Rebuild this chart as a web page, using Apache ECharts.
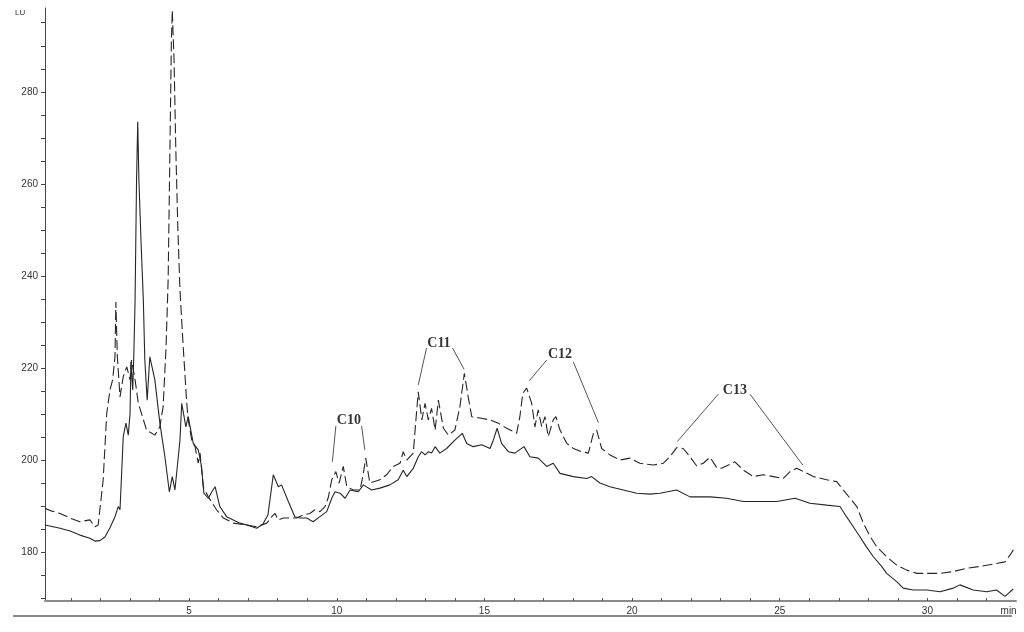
<!DOCTYPE html>
<html>
<head>
<meta charset="utf-8">
<script src="https://cdn.jsdelivr.net/npm/echarts@6/dist/echarts.min.js"></script>
<style>html,body{margin:0;padding:0;background:#fff}#c{width:1024px;height:632px}</style>
</head>
<body>
<div id="c"></div>
<script>
// Solid trace (retention time in min, signal in LU)
const solidTime = [0.12,0.63,0.97,1.30,1.64,1.81,1.98,2.15,2.32,2.49,2.60,2.66,2.77,2.86,2.94,3.00,3.03,3.09,3.13,3.17,3.22,3.26,3.30,3.37,3.45,3.50,3.58,3.67,3.84,4.01,4.18,4.33,4.43,4.52,4.69,4.75,4.89,4.97,5.14,5.31,5.42,5.50,5.65,5.77,5.88,6.04,6.27,6.72,7.06,7.29,7.50,7.67,7.85,8.02,8.13,8.36,8.58,8.75,8.98,9.20,9.43,9.66,9.83,9.94,10.11,10.28,10.45,10.73,10.90,11.18,11.46,11.80,12.08,12.25,12.37,12.59,12.76,12.87,12.99,13.10,13.21,13.33,13.49,13.72,14.00,14.25,14.40,14.62,14.91,15.19,15.30,15.43,15.58,15.81,16.03,16.34,16.54,16.82,17.11,17.33,17.56,18.01,18.46,18.63,18.91,19.25,19.70,20.16,20.61,20.94,21.51,21.96,22.64,23.20,23.77,24.33,24.90,25.52,26.02,26.59,27.04,27.26,27.49,27.71,27.94,28.17,28.45,28.62,28.96,29.18,29.52,29.98,30.43,30.88,31.10,31.55,32.01,32.34,32.63,32.80,32.91];
const solidValue = [186.0,185.3,184.7,183.8,183.1,182.5,182.6,183.4,185.4,187.8,190.0,189.3,205.2,208.1,205.5,210.2,221.4,215.3,223.6,234.8,260.8,273.5,260.8,247.8,234.8,221.8,213.1,222.5,217.5,208.1,200.8,193.2,196.5,193.6,204.4,212.4,207.3,209.5,203.7,202.3,198.7,192.9,191.8,193.2,194.3,190.0,187.8,186.4,185.8,185.3,186.2,188.2,196.9,194.3,194.7,191.1,187.8,187.5,187.5,186.7,187.8,188.9,191.8,193.2,192.9,191.8,193.6,193.2,194.7,193.6,194.0,194.7,195.8,197.9,196.5,198.3,200.8,201.9,201.2,201.9,201.6,203.0,201.6,202.6,204.4,205.9,203.7,203.0,203.4,202.6,204.4,207.0,203.7,201.9,201.6,203.0,200.8,200.5,198.7,199.4,197.2,196.5,196.1,196.5,195.1,194.3,193.6,192.9,192.7,192.9,193.6,192.1,192.1,191.8,191.1,191.1,191.1,191.8,190.7,190.3,190.0,187.8,185.6,183.5,181.2,179.1,177.0,175.5,173.7,172.3,171.9,171.9,171.5,172.3,173.0,171.9,171.5,171.9,170.5,171.5,172.1];

// Dashed trace
const dashedTime = [0.12,0.36,0.63,0.97,1.30,1.64,1.81,1.92,2.09,2.21,2.32,2.41,2.49,2.52,2.57,2.66,2.77,2.89,3.00,3.05,3.17,3.28,3.56,3.84,4.01,4.12,4.22,4.29,4.35,4.40,4.43,4.49,4.55,4.62,4.69,4.80,4.92,4.97,5.09,5.20,5.31,5.37,5.48,5.65,5.93,6.16,6.50,6.95,7.29,7.63,7.80,7.91,8.02,8.19,8.42,8.64,8.87,9.09,9.26,9.43,9.60,9.71,9.83,9.97,10.08,10.22,10.34,10.56,10.79,10.90,10.98,11.12,11.46,11.69,11.91,12.14,12.25,12.37,12.59,12.68,12.76,12.88,12.99,13.10,13.21,13.33,13.44,13.61,13.78,14.00,14.17,14.32,14.45,14.57,14.85,15.19,15.47,15.75,16.09,16.20,16.30,16.43,16.60,16.71,16.82,16.94,17.05,17.16,17.33,17.42,17.56,17.79,18.01,18.29,18.52,18.69,18.80,18.97,19.25,19.59,19.93,20.26,20.72,21.06,21.28,21.51,21.73,21.96,22.19,22.41,22.64,22.86,23.03,23.26,23.48,23.77,24.10,24.44,24.78,25.12,25.35,25.57,25.80,26.14,26.59,26.93,27.15,27.38,27.61,27.83,28.06,28.28,28.62,28.96,29.30,29.64,29.98,30.43,30.88,31.33,31.78,32.23,32.63,32.80,32.91];
const dashedValue = [189.6,189.0,188.5,187.5,186.7,187.1,185.6,186.0,195.8,210.2,215.3,217.5,222.5,234.4,222.5,213.8,218.2,220.3,217.5,221.8,217.5,212.4,206.6,205.5,207.3,211.7,224.7,239.2,267.4,291.2,297.7,286.9,267.4,250.0,237.0,224.7,212.4,208.8,204.4,203.0,199.4,201.6,194.3,192.1,189.3,187.5,186.4,186.0,185.6,186.4,187.8,188.5,187.1,187.5,187.5,187.5,188.2,188.5,189.3,188.9,190.0,191.9,195.8,197.6,195.1,198.7,194.3,193.6,193.6,197.2,200.5,195.1,195.8,196.9,198.7,199.4,201.9,200.1,201.6,208.8,214.9,208.8,212.4,208.8,211.3,206.6,213.1,207.0,205.5,206.6,211.7,218.9,213.8,209.5,209.2,208.8,208.1,207.0,205.9,209.5,214.6,215.7,212.4,207.3,211.0,207.3,209.5,205.2,208.8,209.5,206.6,203.7,202.6,201.9,201.6,205.9,206.6,202.6,201.2,200.1,200.5,199.4,199.0,199.4,200.8,202.8,202.6,200.8,198.8,199.4,200.7,198.5,198.3,199.0,199.7,197.9,196.5,196.9,196.5,196.1,197.6,198.3,197.6,196.5,195.8,195.4,193.6,191.8,190.0,186.4,183.5,181.3,179.1,177.3,176.2,175.5,175.5,175.5,175.9,176.6,177.0,177.5,178.0,179.5,180.6];

// Axis ticks and labels
const yLabelValues = [180,200,220,240,260,280];
const yTickValues = [170,175,180,185,190,195,200,205,210,215,220,225,230,235,240,245,250,255,260,265,270,275,280,285,290,295];
const xLabelValues = [5,10,15,20,25,30];
const xTickValues = [1,2,3,4,5,6,7,8,9,10,11,12,13,14,15,16,17,18,19,20,21,22,23,24,25,26,27,28,29,30,31,32];
const xUnitLabel = 'min';
const yUnitLabel = 'LU';

// Peak-group annotations: label, label position, and leader lines [from, to]
const annotLabels = ['C10','C11','C12','C13'];
const annotLabelPos = [[10.41,208.8],[13.46,225.5],[17.56,223.1],[23.48,215.3]];
const annotLeaders = [
  [[9.97,207.5],[9.85,199.7]], [[10.84,207.5],[10.95,202.3]],
  [[13.04,224.4],[12.76,216.4]], [[13.92,224.4],[14.31,219.8]],
  [[17.11,221.8],[16.52,217.3]], [[18.01,221.4],[18.86,208.2]],
  [[22.92,214.4],[21.53,204.1]], [[23.99,214.4],[25.78,199.0]]
];

const zip = (a,b) => a.map((v,i)=>[v,b[i]]);
const lineColor = '#262626';

const chart = echarts.init(document.getElementById('c'), null, {renderer:'canvas'});
chart.setOption({
  animation: false,
  backgroundColor: '#fff',
  grid: {left: 45, right: 8, top: 8, bottom: 31, containLabel: false},
  xAxis: {
    type: 'value', min: 0.12, max: 33,
    axisLine: {show: true, onZero: false, lineStyle: {color: '#8a8a8a', width: 2}},
    axisTick: {show: true, inside: true, length: 3, customValues: xTickValues, lineStyle: {color: '#555', width: 1}},
    axisLabel: {show: true, customValues: xLabelValues.concat([32.75]), margin: 5, fontSize: 10, color: '#333',
      fontFamily: 'Liberation Sans, Arial, sans-serif',
      formatter: v => v > 32 ? xUnitLabel : String(v)},
    splitLine: {show: false}
  },
  yAxis: {
    type: 'value', min: 169.5, max: 298.2,
    axisLine: {show: true, onZero: false, lineStyle: {color: '#444', width: 1}},
    axisTick: {show: true, length: 4, customValues: yTickValues, lineStyle: {color: '#444'}},
    axisLabel: {show: true, customValues: yLabelValues, margin: 7, fontSize: 10, color: '#333',
      fontFamily: 'Liberation Sans, Arial, sans-serif'},
    splitLine: {show: false}
  },
  graphic: [
    {type: 'line', shape: {x1: 13, y1: 616, x2: 1012, y2: 616}, style: {stroke: '#8a8a8a', lineWidth: 2}},
    {type: 'text', left: 15, top: 9, style: {text: yUnitLabel, fontSize: 8, fill: '#333', fontFamily: 'Liberation Sans, Arial, sans-serif'}}
  ],
  series: [
    {
      type: 'line', name: 'dashed', data: zip(dashedTime, dashedValue), showSymbol: false, symbol: 'none',
      lineStyle: {color: lineColor, width: 1.1, type: [10, 4]}, z: 3
    },
    {
      type: 'line', name: 'solid', data: zip(solidTime, solidValue), showSymbol: false, symbol: 'none',
      lineStyle: {color: lineColor, width: 1.1}, z: 3,
      markLine: {
        silent: true, symbol: ['none','none'], label: {show: false},
        lineStyle: {color: '#555', width: 1, type: 'solid'},
        data: annotLeaders.map(l => [{coord: l[0]}, {coord: l[1]}])
      }
    },
    {
      type: 'scatter', name: 'labels', symbolSize: 0, silent: true,
      data: annotLabelPos.map((p,i)=>({value: p, name: annotLabels[i]})),
      label: {show: true, position: 'inside', formatter: p => p.name, fontFamily: 'Liberation Serif, Times New Roman, serif',
        fontWeight: 'bold', fontSize: 14, color: '#000'}
    }
  ]
});
</script>
</body>
</html>
